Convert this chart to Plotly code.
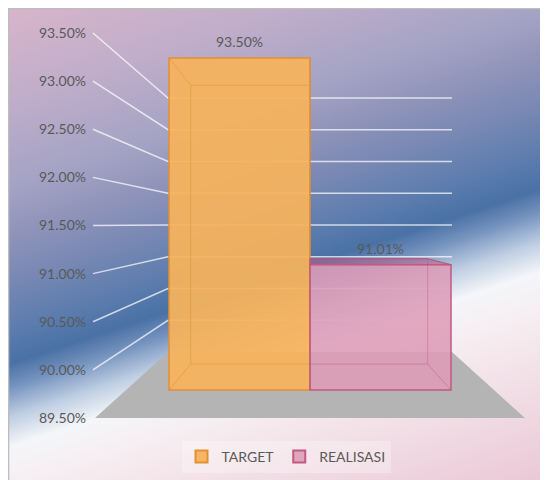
import base64
import plotly.graph_objects as go

# ---------------- data ----------------
series = ["TARGET", "REALISASI"]
values = [93.50, 91.01]
tick_values = [89.5, 90.0, 90.5, 91.0, 91.5, 92.0, 92.5, 93.0, 93.5]
tick_labels = ["89.50%", "90.00%", "90.50%", "91.00%", "91.50%",
               "92.00%", "92.50%", "93.00%", "93.50%"]
bar_fill = ["rgba(245,178,92,0.94)", "rgba(221,156,183,0.88)"]
bar_line = ["#E38F33", "#C25A82"]
base_value = 89.5

# ---------------- geometry helpers (reference pixels, y from top) ----------------
OX, OY = 8, 8            # page body margin offset
W, H = 540, 472          # figure size
LABEL_Y0, LABEL_K = 418.0, 96.25   # left tick-label scale
BACK_Y0, BACK_K = 352.0, 63.5      # back wall scale
FRONT_Y0, FRONT_K = 390.0, 83.0    # bar (front) scale
BACK_X0, BACK_X1 = 168.0, 452.0
LEAD_X = 93.0
BAR_W = 141.0
FIRST_CENTER = 239.5
VPX, VPY, DEPTH = 305.0, 228.0, 0.16


def label_py(v):
    return LABEL_Y0 - (v - base_value) * LABEL_K


def back_py(v):
    return BACK_Y0 - (v - base_value) * BACK_K


def front_py(v):
    return FRONT_Y0 - (v - base_value) * FRONT_K


def P(x, y):
    return (x - OX) / W, 1 - (y - OY) / H


def path(pts):
    s = ""
    for i, (x, y) in enumerate(pts):
        px, py = P(x, y)
        s += ("M" if i == 0 else "L") + f"{px:.5f},{py:.5f} "
    return s + "Z"


# ---------------- background gradient image ----------------
stops = [
    (0, "#DAB6CA"), (100, "#C1AECA"), (190, "#A4A3C4"), (240, "#8F93B9"),
    (290, "#7587B3"), (335, "#5B7CAD"), (367, "#4A71A5"), (390, "#7492BE"),
    (420, "#BDCDE2"), (450, "#F4F6F9"), (500, "#F6ECF0"), (661, "#EAC8D5"),
]
stop_xml = "".join(
    f'<stop offset="{s/661:.4f}" stop-color="{c}"/>' for s, c in stops)
svg = (
    '<svg xmlns="http://www.w3.org/2000/svg" width="548" height="480" '
    'viewBox="8 8 540 472" preserveAspectRatio="none">'
    '<defs><linearGradient id="g" gradientUnits="userSpaceOnUse" '
    'x1="0" y1="0" x2="196.7" y2="596.1">' + stop_xml +
    '</linearGradient></defs>'
    '<rect x="0" y="0" width="548" height="480" fill="url(#g)"/></svg>'
)
src = "data:image/svg+xml;base64," + base64.b64encode(svg.encode()).decode()

fig = go.Figure()

# empty trace so main subplot exists
fig.add_trace(go.Scatter(x=[None], y=[None], xaxis="x", yaxis="y",
                         showlegend=False, hoverinfo="skip"))

for i, s in enumerate(series):
    fig.add_trace(go.Bar(
        name=s, x=[s], y=[values[i] - base_value], base=base_value,
        width=1.0, xaxis="x2", yaxis="y2",
        marker=dict(color=bar_fill[i], line=dict(color=bar_line[i], width=1.5)),
        hovertemplate=f"{s}: {values[i]:.2f}%<extra></extra>",
    ))

shapes = []
# chart area border
shapes.append(dict(type="rect", xref="paper", yref="paper", x0=0.001, y0=-0.01,
                   x1=1.01, y1=0.999, line=dict(color="#BDBDBD", width=1.5),
                   layer="below"))
# floor
shapes.append(dict(type="path", xref="paper", yref="paper", layer="below",
                   path=path([(95, label_py(base_value)), (525, label_py(base_value)),
                              (BACK_X1, back_py(base_value)),
                              (BACK_X0, back_py(base_value))]),
                   fillcolor="#B4B4B4", line=dict(width=0)))
# gridlines: leader + back wall
for v in tick_values:
    if v == base_value:
        continue
    a = P(LEAD_X, label_py(v))
    b = P(BACK_X0, back_py(v))
    c = P(BACK_X1, back_py(v))
    shapes.append(dict(type="path", xref="paper", yref="paper", layer="below",
                       path=f"M{a[0]:.5f},{a[1]:.5f} L{b[0]:.5f},{b[1]:.5f} L{c[0]:.5f},{c[1]:.5f}",
                       line=dict(color="rgba(255,255,255,0.72)", width=1.5)))

# 3D bar edges
edge_cols = ["rgba(214,130,40,0.35)", "rgba(180,70,115,0.35)"]
for i, v in enumerate(values):
    cx = FIRST_CENTER + i * BAR_W
    fx0, fx1 = cx - BAR_W / 2, cx + BAR_W / 2
    fyt, fyb = front_py(v), front_py(base_value)

    def back(x, y):
        return x + DEPTH * (VPX - x), y + DEPTH * (VPY - y)
    bx0, byt = back(fx0, fyt)
    bx1, byb = back(fx1, fyb)
    if i == 0:
        bx1 = fx1
    if i == 1:
        bx0 = fx0
    if byt < fyt:  # visible top face
        shapes.append(dict(type="path", xref="paper", yref="paper", layer="above",
                           path=path([(fx0, fyt), (bx0, byt), (bx1, byt), (fx1, fyt)]),
                           fillcolor="rgba(190,95,135,0.55)",
                           line=dict(color=bar_line[i], width=1)))
    pts = [(bx0, byt), (bx1, byt), (bx1, byb), (bx0, byb)]
    fr = [(fx0, fyt), (fx1, fyt), (fx1, fyb), (fx0, fyb)]
    for k in range(4):
        a, b = P(*pts[k]), P(*pts[(k + 1) % 4])
        shapes.append(dict(type="line", xref="paper", yref="paper", layer="above",
                           x0=a[0], y0=a[1], x1=b[0], y1=b[1],
                           line=dict(color=edge_cols[i], width=1)))
        a2 = P(*fr[k])
        shapes.append(dict(type="line", xref="paper", yref="paper", layer="above",
                           x0=a2[0], y0=a2[1], x1=a[0], y1=a[1],
                           line=dict(color=edge_cols[i], width=1)))

annotations = []
for i, v in enumerate(values):
    annotations.append(dict(x=series[i], y=v, xref="x2", yref="y2",
                            text=f"{v:.2f}%", showarrow=False, yanchor="bottom",
                            yshift=6, font=dict(family="Lato", size=14, color="#595959")))

# axis ranges so that reference pixel rows OY..OY+H map to the figure
lab_rng = [base_value + (LABEL_Y0 - (OY + H)) / LABEL_K, base_value + (LABEL_Y0 - OY) / LABEL_K]
bar_rng = [base_value + (FRONT_Y0 - (OY + H)) / FRONT_K, base_value + (FRONT_Y0 - OY) / FRONT_K]
cat_rng = [(OX - FIRST_CENTER) / BAR_W, (OX + W - FIRST_CENTER) / BAR_W]

fig.update_layout(
    width=W, height=H, margin=dict(l=0, r=0, t=0, b=0),
    paper_bgcolor="white", plot_bgcolor="rgba(0,0,0,0)",
    font=dict(family="Lato", size=14, color="#595959"),
    images=[dict(source=src, xref="paper", yref="paper", x=0, y=1,
                 sizex=1, sizey=1, sizing="stretch",
                 xanchor="left", yanchor="top", layer="below")],
    xaxis=dict(range=[0, W], visible=False, fixedrange=True),
    yaxis=dict(range=lab_rng, tickvals=tick_values, ticktext=tick_labels,
               showgrid=False, zeroline=False, showline=False, ticks="",
               anchor="free", position=(86 - OX) / W, fixedrange=True,
               tickfont=dict(family="Lato", size=14, color="#595959")),
    xaxis2=dict(range=cat_rng, overlaying="x", visible=False, type="category",
                fixedrange=True),
    yaxis2=dict(range=bar_rng, overlaying="y", visible=False, fixedrange=True),
    barmode="overlay",
    shapes=shapes, annotations=annotations,
    legend=dict(orientation="h", x=(286 - OX) / W, y=1 - (457 - OY) / H,
                xanchor="center", yanchor="middle",
                bgcolor="rgba(255,255,255,0.28)",
                font=dict(family="Lato", size=14, color="#595959"),
                itemsizing="constant", itemwidth=30),
    showlegend=True,
)

fig.write_html("out.html")
